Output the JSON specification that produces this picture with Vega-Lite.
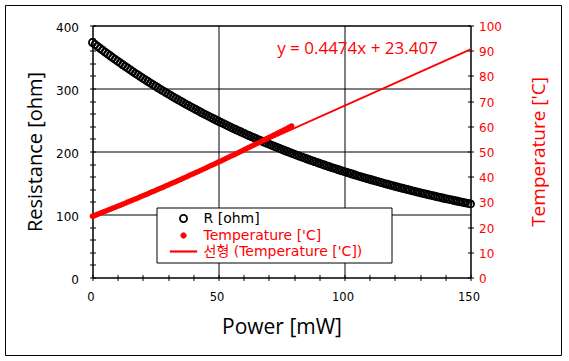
{
  "$schema": "https://vega.github.io/schema/vega-lite/v6.json",
  "width": 378,
  "height": 252,
  "autosize": {"type": "none"},
  "padding": {"left": 92.5, "top": 25.5, "right": 98.5, "bottom": 83.5},
  "background": "white",
  "config": {"view": {"stroke": "black", "strokeWidth": 1}},
  "datasets": {
    "resistance": [
      {"P":0,"R":373.0},{"P":1,"R":369.9},{"P":2,"R":366.9},{"P":3,"R":363.8},{"P":4,"R":360.8},{"P":5,"R":357.8},{"P":6,"R":354.9},{"P":7,"R":352.0},{"P":8,"R":349.1},{"P":9,"R":346.2},
      {"P":10,"R":343.4},{"P":11,"R":340.5},{"P":12,"R":337.7},{"P":13,"R":335.0},{"P":14,"R":332.2},{"P":15,"R":329.5},{"P":16,"R":326.8},{"P":17,"R":324.1},{"P":18,"R":321.5},{"P":19,"R":318.8},
      {"P":20,"R":316.2},{"P":21,"R":313.7},{"P":22,"R":311.1},{"P":23,"R":308.6},{"P":24,"R":306.0},{"P":25,"R":303.6},{"P":26,"R":301.1},{"P":27,"R":298.6},{"P":28,"R":296.2},{"P":29,"R":293.8},
      {"P":30,"R":291.4},{"P":31,"R":289.1},{"P":32,"R":286.7},{"P":33,"R":284.4},{"P":34,"R":282.1},{"P":35,"R":279.8},{"P":36,"R":277.6},{"P":37,"R":275.3},{"P":38,"R":273.1},{"P":39,"R":270.9},
      {"P":40,"R":268.8},{"P":41,"R":266.6},{"P":42,"R":264.5},{"P":43,"R":262.3},{"P":44,"R":260.2},{"P":45,"R":258.1},{"P":46,"R":256.1},{"P":47,"R":254.0},{"P":48,"R":252.0},{"P":49,"R":250.0},
      {"P":50,"R":248.0},{"P":51,"R":246.0},{"P":52,"R":244.1},{"P":53,"R":242.1},{"P":54,"R":240.2},{"P":55,"R":238.3},{"P":56,"R":236.4},{"P":57,"R":234.5},{"P":58,"R":232.7},{"P":59,"R":230.9},
      {"P":60,"R":229.0},{"P":61,"R":227.2},{"P":62,"R":225.4},{"P":63,"R":223.7},{"P":64,"R":221.9},{"P":65,"R":220.2},{"P":66,"R":218.4},{"P":67,"R":216.7},{"P":68,"R":215.0},{"P":69,"R":213.3},
      {"P":70,"R":211.7},{"P":71,"R":210.0},{"P":72,"R":208.4},{"P":73,"R":206.8},{"P":74,"R":205.2},{"P":75,"R":203.6},{"P":76,"R":202.0},{"P":77,"R":200.4},{"P":78,"R":198.9},{"P":79,"R":197.3},
      {"P":80,"R":195.8},{"P":81,"R":194.3},{"P":82,"R":192.8},{"P":83,"R":191.3},{"P":84,"R":189.8},{"P":85,"R":188.4},{"P":86,"R":186.9},{"P":87,"R":185.5},{"P":88,"R":184.1},{"P":89,"R":182.7},
      {"P":90,"R":181.3},{"P":91,"R":179.9},{"P":92,"R":178.5},{"P":93,"R":177.2},{"P":94,"R":175.8},{"P":95,"R":174.5},{"P":96,"R":173.2},{"P":97,"R":171.9},{"P":98,"R":170.6},{"P":99,"R":169.3},
      {"P":100,"R":168.0},{"P":101,"R":166.7},{"P":102,"R":165.5},{"P":103,"R":164.3},{"P":104,"R":163.0},{"P":105,"R":161.8},{"P":106,"R":160.6},{"P":107,"R":159.4},{"P":108,"R":158.2},{"P":109,"R":157.0},
      {"P":110,"R":155.9},{"P":111,"R":154.7},{"P":112,"R":153.6},{"P":113,"R":152.4},{"P":114,"R":151.3},{"P":115,"R":150.2},{"P":116,"R":149.1},{"P":117,"R":148.0},{"P":118,"R":146.9},{"P":119,"R":145.8},
      {"P":120,"R":144.8},{"P":121,"R":143.7},{"P":122,"R":142.7},{"P":123,"R":141.6},{"P":124,"R":140.6},{"P":125,"R":139.6},{"P":126,"R":138.6},{"P":127,"R":137.6},{"P":128,"R":136.6},{"P":129,"R":135.6},
      {"P":130,"R":134.6},{"P":131,"R":133.6},{"P":132,"R":132.7},{"P":133,"R":131.7},{"P":134,"R":130.8},{"P":135,"R":129.9},{"P":136,"R":128.9},{"P":137,"R":128.0},{"P":138,"R":127.1},{"P":139,"R":126.2},
      {"P":140,"R":125.3},{"P":141,"R":124.4},{"P":142,"R":123.6},{"P":143,"R":122.7},{"P":144,"R":121.8},{"P":145,"R":121.0},{"P":146,"R":120.1},{"P":147,"R":119.3},{"P":148,"R":118.5},{"P":149,"R":117.6},
      {"P":150,"R":116.8}
    ],
    "temperature": [
      {"P":0,"T":24.30},{"P":1,"T":24.69},{"P":2,"T":25.08},{"P":3,"T":25.48},{"P":4,"T":25.87},{"P":5,"T":26.27},{"P":6,"T":26.67},{"P":7,"T":27.07},{"P":8,"T":27.47},{"P":9,"T":27.87},
      {"P":10,"T":28.28},{"P":11,"T":28.69},{"P":12,"T":29.10},{"P":13,"T":29.51},{"P":14,"T":29.92},{"P":15,"T":30.33},{"P":16,"T":30.74},{"P":17,"T":31.16},{"P":18,"T":31.58},{"P":19,"T":32.00},
      {"P":20,"T":32.42},{"P":21,"T":32.84},{"P":22,"T":33.27},{"P":23,"T":33.69},{"P":24,"T":34.12},{"P":25,"T":34.55},{"P":26,"T":34.98},{"P":27,"T":35.41},{"P":28,"T":35.85},{"P":29,"T":36.28},
      {"P":30,"T":36.72},{"P":31,"T":37.16},{"P":32,"T":37.60},{"P":33,"T":38.04},{"P":34,"T":38.48},{"P":35,"T":38.93},{"P":36,"T":39.38},{"P":37,"T":39.83},{"P":38,"T":40.28},{"P":39,"T":40.73},
      {"P":40,"T":41.18},{"P":41,"T":41.63},{"P":42,"T":42.09},{"P":43,"T":42.55},{"P":44,"T":43.01},{"P":45,"T":43.47},{"P":46,"T":43.93},{"P":47,"T":44.40},{"P":48,"T":44.86},{"P":49,"T":45.33},
      {"P":50,"T":45.80},{"P":51,"T":46.27},{"P":52,"T":46.74},{"P":53,"T":47.22},{"P":54,"T":47.69},{"P":55,"T":48.17},{"P":56,"T":48.65},{"P":57,"T":49.13},{"P":58,"T":49.61},{"P":59,"T":50.09},
      {"P":60,"T":50.58},{"P":61,"T":51.07},{"P":62,"T":51.56},{"P":63,"T":52.05},{"P":64,"T":52.54},{"P":65,"T":53.03},{"P":66,"T":53.52},{"P":67,"T":54.02},{"P":68,"T":54.52},{"P":69,"T":55.02},
      {"P":70,"T":55.52},{"P":71,"T":56.02},{"P":72,"T":56.53},{"P":73,"T":57.03},{"P":74,"T":57.54},{"P":75,"T":58.05},{"P":76,"T":58.56},{"P":77,"T":59.07},{"P":78,"T":59.59},{"P":79,"T":60.10}
    ],
    "trend": [
      {"P":0,"T":23.407},{"P":150,"T":90.517}
    ]
  },
  "resolve": {"scale": {"y": "independent"}},
  "layer": [
    {
      "layer": [
        {
          "data": {"values": [{"frame": "outer"}]},
          "mark": {"type": "rect", "fillOpacity": 0, "stroke": "black", "strokeWidth": 1, "clip": false},
          "encoding": {
            "x": {
              "datum": -34.52, "type": "quantitative",
              "scale": {"domain": [0, 150], "nice": false, "zero": false},
              "axis": {
                "orient": "bottom",
                "values": [0,10,20,30,40,50,60,70,80,90,100,110,120,130,140,150],
                "labelExpr": "datum.value % 50 === 0 ? datum.label : ''",
                "grid": true, "gridColor": "black", "gridWidth": 1,
                "gridOpacity": {"condition": {"test": "datum.value % 50 === 0", "value": 1}, "value": 0},
                "domain": false, "tickSize": 6, "offset": -3, "tickColor": "black", "tickWidth": 1,
                "labelFont": "DejaVu Sans", "labelFontSize": 11.5, "labelColor": "black", "labelPadding": 11, "labelOffset": -2, "labelFlush": false,
                "title": "Power [mW]", "titleFont": "Open Sans", "titleFontSize": 21, "titleFontWeight": "normal", "titleColor": "black", "titlePadding": 13
              }
            },
            "x2": {"datum": 186.11},
            "y": {
              "datum": 431.75, "type": "quantitative",
              "scale": {"domain": [0, 400], "nice": false, "zero": false},
              "axis": {
                "orient": "left",
                "values": [0,20,40,60,80,100,120,140,160,180,200,220,240,260,280,300,320,340,360,380,400],
                "labelExpr": "datum.value % 100 === 0 ? datum.label : ''",
                "grid": true, "gridColor": "black", "gridWidth": 1,
                "gridOpacity": {"condition": {"test": "datum.value % 100 === 0", "value": 1}, "value": 0},
                "domain": false, "tickSize": 6, "offset": -3, "tickColor": "black", "tickWidth": 1,
                "labelFont": "DejaVu Sans", "labelFontSize": 12, "labelColor": "black", "labelPadding": 11, "labelOffset": 1.5, "labelFlush": false,
                "title": "Resistance [ohm]", "titleFont": "Open Sans", "titleFontSize": 20, "titleFontWeight": "normal", "titleColor": "black", "titlePadding": 10
              }
            },
            "y2": {"datum": -123.8}
          }
        },
        {
          "data": {"name": "resistance"},
          "mark": {"type": "point", "filled": false, "opacity": 1},
          "encoding": {
            "x": {
              "field": "P", "type": "quantitative",
              "scale": {"domain": [0, 150], "nice": false, "zero": false},
              "axis": {
                "orient": "bottom",
                "values": [0,10,20,30,40,50,60,70,80,90,100,110,120,130,140,150],
                "labelExpr": "datum.value % 50 === 0 ? datum.label : ''",
                "grid": true, "gridColor": "black", "gridWidth": 1,
                "gridOpacity": {"condition": {"test": "datum.value % 50 === 0", "value": 1}, "value": 0},
                "domain": false, "tickSize": 6, "offset": -3, "tickColor": "black", "tickWidth": 1,
                "labelFont": "DejaVu Sans", "labelFontSize": 11.5, "labelColor": "black", "labelPadding": 11, "labelOffset": -2, "labelFlush": false,
                "title": "Power [mW]", "titleFont": "Open Sans", "titleFontSize": 21, "titleFontWeight": "normal", "titleColor": "black", "titlePadding": 13
              }
            },
            "y": {
              "field": "R", "type": "quantitative",
              "scale": {"domain": [0, 400], "nice": false, "zero": false},
              "axis": {
                "orient": "left",
                "values": [0,20,40,60,80,100,120,140,160,180,200,220,240,260,280,300,320,340,360,380,400],
                "labelExpr": "datum.value % 100 === 0 ? datum.label : ''",
                "grid": true, "gridColor": "black", "gridWidth": 1,
                "gridOpacity": {"condition": {"test": "datum.value % 100 === 0", "value": 1}, "value": 0},
                "domain": false, "tickSize": 6, "offset": -3, "tickColor": "black", "tickWidth": 1,
                "labelFont": "DejaVu Sans", "labelFontSize": 12, "labelColor": "black", "labelPadding": 11, "labelOffset": 1.5, "labelFlush": false,
                "title": "Resistance [ohm]", "titleFont": "Open Sans", "titleFontSize": 20, "titleFontWeight": "normal", "titleColor": "black", "titlePadding": 10
              }
            },
            "stroke": {
              "datum": "R [ohm]", "type": "nominal",
              "scale": {"domain": ["R [ohm]", "Temperature ['C]", "선형 (Temperature ['C])"], "range": ["black", "#ff0000", "#ff0000"]},
              "legend": {
                "orient": "none", "legendX": 64, "legendY": 182, "title": "\u00a0", "titleOrient": "right", "titlePadding": 25, "titleFontSize": 1,
                "padding": 4, "rowPadding": 2,
                "symbolOffset": 16, "labelOffset": 13,
                "labelFont": "DejaVu Sans, Noto Sans CJK KR", "labelFontSize": 14, "labelLimit": 400,
                "labelColor": {"expr": "datum.index === 0 ? 'black' : '#ff0000'"},
                "strokeColor": "black", "fillColor": "white", "cornerRadius": 0
              }
            },
            "fill": {
              "datum": "R [ohm]", "type": "nominal",
              "scale": {"domain": ["R [ohm]", "Temperature ['C]", "선형 (Temperature ['C])"], "range": ["transparent", "#ff0000", "#ff0000"]},
              "legend": {
                "orient": "none", "legendX": 64, "legendY": 182, "title": "\u00a0", "titleOrient": "right", "titlePadding": 25, "titleFontSize": 1,
                "padding": 4, "rowPadding": 2,
                "symbolOffset": 16, "labelOffset": 13,
                "labelFont": "DejaVu Sans, Noto Sans CJK KR", "labelFontSize": 14, "labelLimit": 400,
                "labelColor": {"expr": "datum.index === 0 ? 'black' : '#ff0000'"},
                "strokeColor": "black", "fillColor": "white", "cornerRadius": 0
              }
            },
            "shape": {
              "datum": "R [ohm]", "type": "nominal",
              "scale": {"domain": ["R [ohm]", "Temperature ['C]", "선형 (Temperature ['C])"], "range": ["circle", "M-0.79,0A0.79,0.79,0,1,1,0.79,0A0.79,0.79,0,1,1,-0.79,0Z", "M-4.17,-0.33H4.17V0.33H-4.17Z"]},
              "legend": {
                "orient": "none", "legendX": 64, "legendY": 182, "title": "\u00a0", "titleOrient": "right", "titlePadding": 25, "titleFontSize": 1,
                "padding": 4, "rowPadding": 2,
                "symbolOffset": 16, "labelOffset": 13,
                "labelFont": "DejaVu Sans, Noto Sans CJK KR", "labelFontSize": 14, "labelLimit": 400,
                "labelColor": {"expr": "datum.index === 0 ? 'black' : '#ff0000'"},
                "strokeColor": "black", "fillColor": "white", "cornerRadius": 0
              }
            },
            "size": {
              "datum": "R [ohm]", "type": "nominal",
              "scale": {"domain": ["R [ohm]", "Temperature ['C]", "선형 (Temperature ['C])"], "range": [50, 43, 36]},
              "legend": {
                "orient": "none", "legendX": 64, "legendY": 182, "title": "\u00a0", "titleOrient": "right", "titlePadding": 25, "titleFontSize": 1,
                "padding": 4, "rowPadding": 2,
                "symbolOffset": 16, "labelOffset": 13,
                "labelFont": "DejaVu Sans, Noto Sans CJK KR", "labelFontSize": 14, "labelLimit": 400,
                "labelColor": {"expr": "datum.index === 0 ? 'black' : '#ff0000'"},
                "strokeColor": "black", "fillColor": "white", "cornerRadius": 0
              }
            },
            "strokeWidth": {
              "datum": "R [ohm]", "type": "nominal",
              "scale": {"domain": ["R [ohm]", "Temperature ['C]", "선형 (Temperature ['C])"], "range": [1.8, 0, 0]},
              "legend": {
                "orient": "none", "legendX": 64, "legendY": 182, "title": "\u00a0", "titleOrient": "right", "titlePadding": 25, "titleFontSize": 1,
                "padding": 4, "rowPadding": 2,
                "symbolOffset": 16, "labelOffset": 13,
                "labelFont": "DejaVu Sans, Noto Sans CJK KR", "labelFontSize": 14, "labelLimit": 400,
                "labelColor": {"expr": "datum.index === 0 ? 'black' : '#ff0000'"},
                "strokeColor": "black", "fillColor": "white", "cornerRadius": 0
              }
            }
          }
        }
      ]
    },
    {
      "layer": [
        {
          "data": {"name": "temperature"},
          "mark": {"type": "point", "shape": "circle", "filled": true, "size": 30, "opacity": 1, "color": "#ff0000"},
          "encoding": {
            "x": {
              "field": "P", "type": "quantitative",
              "scale": {"domain": [0, 150], "nice": false, "zero": false},
              "axis": {
                "orient": "bottom",
                "values": [0,10,20,30,40,50,60,70,80,90,100,110,120,130,140,150],
                "labelExpr": "datum.value % 50 === 0 ? datum.label : ''",
                "grid": true, "gridColor": "black", "gridWidth": 1,
                "gridOpacity": {"condition": {"test": "datum.value % 50 === 0", "value": 1}, "value": 0},
                "domain": false, "tickSize": 6, "offset": -3, "tickColor": "black", "tickWidth": 1,
                "labelFont": "DejaVu Sans", "labelFontSize": 11.5, "labelColor": "black", "labelPadding": 11, "labelOffset": -2, "labelFlush": false,
                "title": "Power [mW]", "titleFont": "Open Sans", "titleFontSize": 21, "titleFontWeight": "normal", "titleColor": "black", "titlePadding": 13
              }
            },
            "y": {
              "field": "T", "type": "quantitative",
              "scale": {"domain": [0, 100], "nice": false, "zero": false},
              "axis": {
                "orient": "right",
                "values": [0,10,20,30,40,50,60,70,80,90,100],
                "grid": false, "domain": false, "tickSize": 6, "offset": -3, "tickColor": "black", "tickWidth": 1,
                "labelFont": "DejaVu Sans", "labelFontSize": 12, "labelColor": "#ff0000", "labelPadding": 5, "labelOffset": 1, "labelFlush": false,
                "title": "Temperature ['C]", "titleFont": "Open Sans", "titleFontSize": 19, "titleFontWeight": "normal", "titleColor": "#ff0000",
                "titleAngle": 270, "titlePadding": 47
              }
            }
          }
        },
        {
          "data": {"name": "trend"},
          "mark": {"type": "line", "strokeWidth": 1.8, "color": "#ff0000"},
          "encoding": {
            "x": {
              "field": "P", "type": "quantitative",
              "scale": {"domain": [0, 150], "nice": false, "zero": false},
              "axis": {
                "orient": "bottom",
                "values": [0,10,20,30,40,50,60,70,80,90,100,110,120,130,140,150],
                "labelExpr": "datum.value % 50 === 0 ? datum.label : ''",
                "grid": true, "gridColor": "black", "gridWidth": 1,
                "gridOpacity": {"condition": {"test": "datum.value % 50 === 0", "value": 1}, "value": 0},
                "domain": false, "tickSize": 6, "offset": -3, "tickColor": "black", "tickWidth": 1,
                "labelFont": "DejaVu Sans", "labelFontSize": 11.5, "labelColor": "black", "labelPadding": 11, "labelOffset": -2, "labelFlush": false,
                "title": "Power [mW]", "titleFont": "Open Sans", "titleFontSize": 21, "titleFontWeight": "normal", "titleColor": "black", "titlePadding": 13
              }
            },
            "y": {
              "field": "T", "type": "quantitative",
              "scale": {"domain": [0, 100], "nice": false, "zero": false},
              "axis": {
                "orient": "right",
                "values": [0,10,20,30,40,50,60,70,80,90,100],
                "grid": false, "domain": false, "tickSize": 6, "offset": -3, "tickColor": "black", "tickWidth": 1,
                "labelFont": "DejaVu Sans", "labelFontSize": 12, "labelColor": "#ff0000", "labelPadding": 5, "labelOffset": 1, "labelFlush": false,
                "title": "Temperature ['C]", "titleFont": "Open Sans", "titleFontSize": 19, "titleFontWeight": "normal", "titleColor": "#ff0000",
                "titleAngle": 270, "titlePadding": 47
              }
            }
          }
        },
        {
          "data": {"values": [{"label": "y = 0.4474x + 23.407"}]},
          "mark": {"type": "text", "font": "Open Sans", "fontSize": 17, "color": "#ff0000", "align": "center", "baseline": "middle"},
          "encoding": {
            "x": {
              "datum": 105.16, "type": "quantitative",
              "scale": {"domain": [0, 150], "nice": false, "zero": false},
              "axis": {
                "orient": "bottom",
                "values": [0,10,20,30,40,50,60,70,80,90,100,110,120,130,140,150],
                "labelExpr": "datum.value % 50 === 0 ? datum.label : ''",
                "grid": true, "gridColor": "black", "gridWidth": 1,
                "gridOpacity": {"condition": {"test": "datum.value % 50 === 0", "value": 1}, "value": 0},
                "domain": false, "tickSize": 6, "offset": -3, "tickColor": "black", "tickWidth": 1,
                "labelFont": "DejaVu Sans", "labelFontSize": 11.5, "labelColor": "black", "labelPadding": 11, "labelOffset": -2, "labelFlush": false,
                "title": "Power [mW]", "titleFont": "Open Sans", "titleFontSize": 21, "titleFontWeight": "normal", "titleColor": "black", "titlePadding": 13
              }
            },
            "y": {
              "datum": 90.5, "type": "quantitative",
              "scale": {"domain": [0, 100], "nice": false, "zero": false},
              "axis": {
                "orient": "right",
                "values": [0,10,20,30,40,50,60,70,80,90,100],
                "grid": false, "domain": false, "tickSize": 6, "offset": -3, "tickColor": "black", "tickWidth": 1,
                "labelFont": "DejaVu Sans", "labelFontSize": 12, "labelColor": "#ff0000", "labelPadding": 5, "labelOffset": 1, "labelFlush": false,
                "title": "Temperature ['C]", "titleFont": "Open Sans", "titleFontSize": 19, "titleFontWeight": "normal", "titleColor": "#ff0000",
                "titleAngle": 270, "titlePadding": 47
              }
            },
            "text": {"field": "label"}
          }
        }
      ]
    }
  ]
}
